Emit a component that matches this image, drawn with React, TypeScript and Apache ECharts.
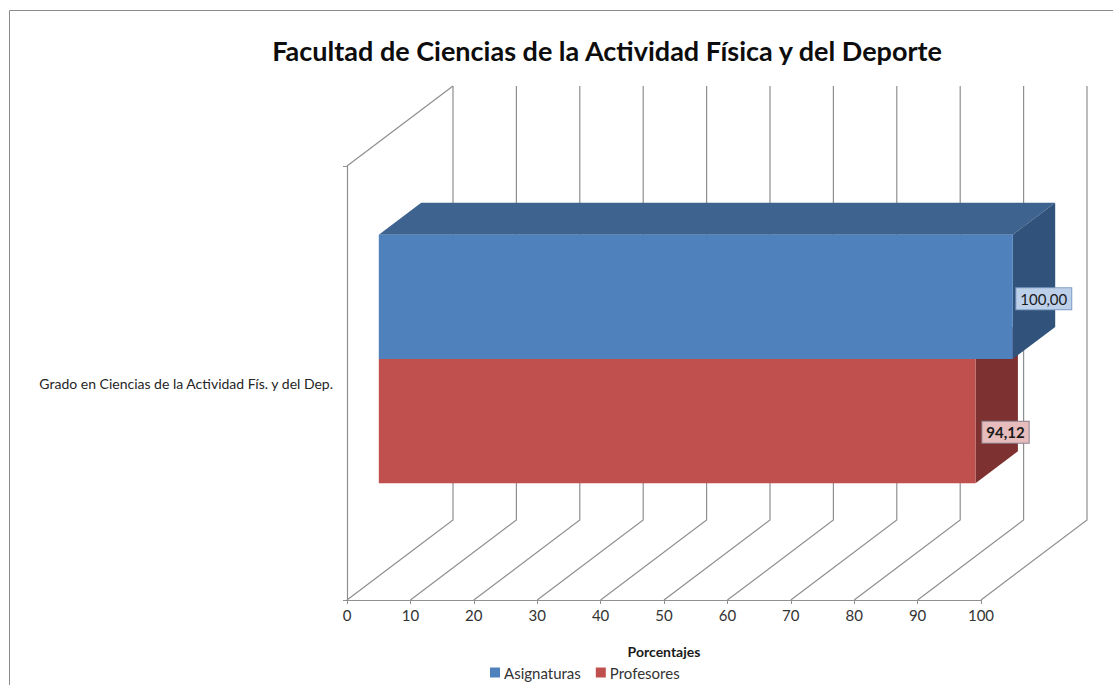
import React, { useEffect, useRef } from "react";
import * as echarts from "echarts";

const titleText = "Facultad de Ciencias de la Actividad Física y del Deporte";
const categories = ["Grado en Ciencias de la Actividad Fís. y del Dep."];
const asignaturas = [100.0];
const profesores = [94.12];
const xTicks = [0, 10, 20, 30, 40, 50, 60, 70, 80, 90, 100];
const FONT = "Lato, 'Open Sans', sans-serif";
const DEPTH_X = 106;
const DEPTH_Y = -80;

function pct(f: number, p: number[]) {
  return [p[0] + DEPTH_X * f, p[1] + DEPTH_Y * f];
}

function makeBar(side: -1 | 1, cols: any, lab: any) {
  return (_params: any, api: any) => {
    const value = api.value(0);
    const cat = api.value(1);
    const end = api.coord([value, cat]);
    const start = api.coord([0, cat]);
    const band = api.size([0, 1])[1];
    const barH = band * 0.2864;
    const yTop = side < 0 ? end[1] - barH : end[1];
    const yBot = side < 0 ? end[1] : end[1] + barH;
    const f0 = 0.3;
    const f1 = 0.7;
    const a = pct(f0, [start[0], yTop]);
    const b = pct(f0, [end[0], yTop]);
    const c = pct(f0, [end[0], yBot]);
    const d = pct(f0, [start[0], yBot]);
    const a2 = pct(f1, [start[0], yTop]);
    const b2 = pct(f1, [end[0], yTop]);
    const c2 = pct(f1, [end[0], yBot]);
    return {
      type: "group",
      children: [
        { type: "polygon", shape: { points: [a, b, b2, a2] }, style: { fill: cols.top } },
        { type: "polygon", shape: { points: [b, c, c2, b2] }, style: { fill: cols.side } },
        { type: "polygon", shape: { points: [a, b, c, d] }, style: { fill: cols.front } },
        {
          type: "text",
          x: b[0] + lab.dx,
          y: (a[1] + d[1]) / 2 + lab.dy,
          z2: 10,
          style: {
            text: value.toFixed(2).replace(".", ","),
            align: "center",
            verticalAlign: "middle",
            fill: "#1a1a1a",
            font: `${lab.weight} 15px ${FONT}`,
            backgroundColor: lab.bg,
            borderColor: lab.border,
            borderWidth: 1,
            padding: [3, 4, 3, 4],
          },
        },
      ],
    };
  };
}

function renderWalls(_params: any, api: any) {
  const v = api.value(0);
  const bottom = api.coord([v, 0]);
  const band = api.size([0, 1])[1];
  const yBottom = bottom[1] + band / 2;
  const yTop = bottom[1] - band / 2;
  const f = [bottom[0], yBottom];
  const back = pct(1, f);
  const backTop = pct(1, [bottom[0], yTop]);
  const children: any[] = [
    {
      type: "polyline",
      shape: { points: [f, back, backTop] },
      style: { stroke: "#8f8f8f", lineWidth: 1.2, fill: "none" },
    },
  ];
  if (v === 0) {
    children.push({
      type: "line",
      shape: { x1: bottom[0], y1: yTop, x2: backTop[0], y2: backTop[1] },
      style: { stroke: "#8f8f8f", lineWidth: 1.2 },
    });
  }
  return { type: "group", children };
}

export default function App() {
  const ref = useRef<HTMLDivElement>(null);
  useEffect(() => {
    document.body.style.margin = "0";
    const chart = echarts.init(ref.current!, null, { renderer: "svg" });
    chart.setOption({
      animation: false,
      backgroundColor: "#ffffff",
      title: {
        text: titleText,
        left: 602,
        top: 32,
        textAlign: "center",
        textStyle: { fontFamily: FONT, fontSize: 27, fontWeight: "bold", color: "#0d0d0d" },
      },
      grid: { left: 347, top: 166, width: 634, height: 434 },
      xAxis: {
        type: "value",
        min: 0,
        max: 100,
        interval: 10,
        name: "Porcentajes",
        nameLocation: "center",
        nameGap: 44,
        nameTextStyle: { fontFamily: FONT, fontSize: 14, fontWeight: "bold", color: "#1a1a1a" },
        axisLine: { show: true, lineStyle: { color: "#8f8f8f", width: 1.2 } },
        axisTick: { show: true, length: 4, lineStyle: { color: "#8f8f8f" } },
        axisLabel: { fontFamily: FONT, fontSize: 15, color: "#333333", margin: 7 },
        splitLine: { show: false },
      },
      yAxis: {
        type: "category",
        data: categories,
        axisLine: { show: true, lineStyle: { color: "#8f8f8f", width: 1.2 } },
        axisTick: { show: true, length: 4, lineStyle: { color: "#8f8f8f" } },
        axisLabel: { fontFamily: FONT, fontSize: 14, color: "#262626", margin: 14 },
      },
      legend: {
        left: 485,
        top: 660,
        data: ["Asignaturas", "Profesores"],
        icon: "rect",
        itemWidth: 10,
        itemHeight: 10,
        itemGap: 15,
        textStyle: { fontFamily: FONT, fontSize: 15, color: "#333333", padding: [0, 0, 0, -1] },
      },
      graphic: [
        {
          type: "polyline",
          silent: true,
          shape: { points: [[9.5, 685], [9.5, 10.5], [1113, 10.5]] },
          style: { stroke: "#8c8c8c", lineWidth: 1, fill: "none" },
        },
      ],
      series: [
        {
          type: "custom",
          name: "walls",
          silent: true,
          z: 1,
          renderItem: renderWalls,
          encode: { x: 0 },
          data: xTicks.map((t) => [t]),
        },
        {
          type: "custom",
          name: "Asignaturas",
          z: 4,
          itemStyle: { color: "#4F81BD" },
          renderItem: makeBar(-1, { front: "#4F81BD", top: "#3E638F", side: "#31527A" }, {
            dx: 31, dy: 2, weight: "normal", bg: "#BCD0EA", border: "#7F9DC4",
          }),
          encode: { x: 0, y: 1 },
          data: asignaturas.map((v, i) => [v, i]),
        },
        {
          type: "custom",
          name: "Profesores",
          z: 3,
          itemStyle: { color: "#C0504D" },
          renderItem: makeBar(1, { front: "#C0504D", top: "#98403D", side: "#7D3231" }, {
            dx: 30, dy: 11, weight: "bold", bg: "#E6BDBC", border: "#8A7F8F",
          }),
          encode: { x: 0, y: 1 },
          data: profesores.map((v, i) => [v, i]),
        },
      ],
    });
    return () => chart.dispose();
  }, []);
  return <div ref={ref} style={{ width: 1113, height: 685 }} />;
}
